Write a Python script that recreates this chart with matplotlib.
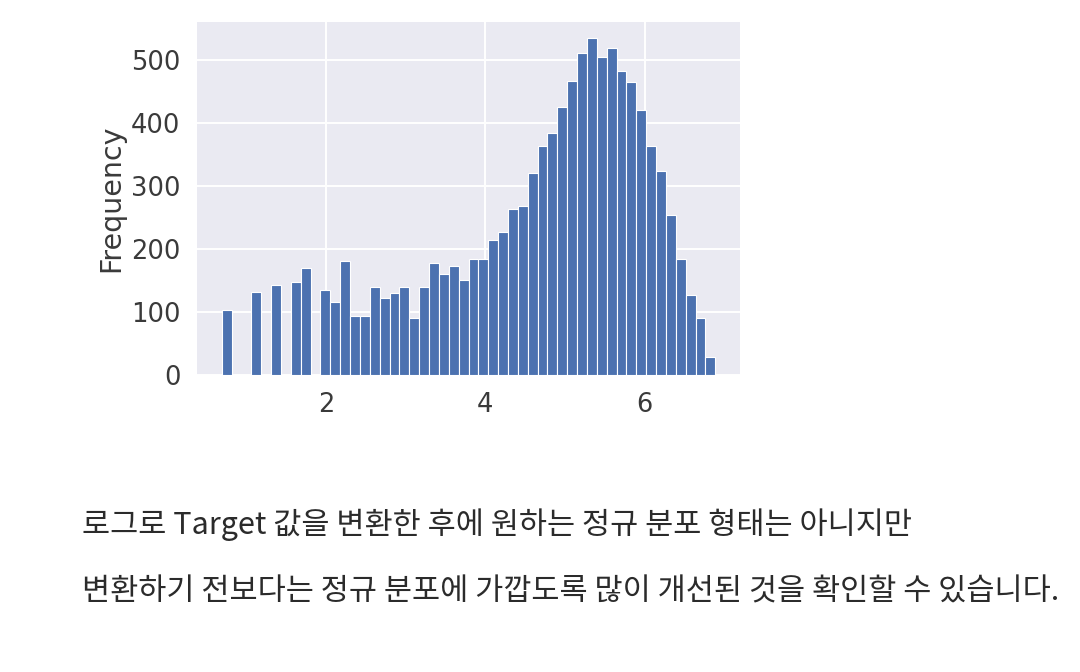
import numpy as np
import matplotlib
matplotlib.use("Agg")
import matplotlib.pyplot as plt
import seaborn as sns

# log1p(count) 히스토그램, 50개 구간
log_min = 0.693
log_max = 6.886
counts = [103, 0, 0, 132, 0, 142, 0, 148, 169, 0,
          135, 116, 181, 94, 94, 140, 122, 130, 140, 91,
          140, 178, 160, 173, 150, 184, 184, 214, 227, 263,
          268, 320, 364, 384, 425, 467, 511, 534, 505, 518,
          482, 464, 420, 364, 323, 253, 184, 127, 91, 29]
xticks = [2, 4, 6]
yticks = [0, 100, 200, 300, 400, 500]
line1 = "로그로 Target 값을 변환한 후에 원하는 정규 분포 형태는 아니지만"
line2 = "변환하기 전보다는 정규 분포에 가깝도록 많이 개선된 것을 확인할 수 있습니다."

sns.set_style("darkgrid")
plt.rcParams['font.family'] = ['DejaVu Sans']
plt.rcParams['font.sans-serif'] = ['DejaVu Sans']

edges = np.linspace(log_min, log_max, len(counts) + 1)
centers = (edges[:-1] + edges[1:]) / 2

fig = plt.figure(figsize=(10.8, 6.72), dpi=100)
ax = fig.add_axes([0.1824, 0.442, 0.5028, 0.5253])
ax.hist(centers, bins=edges, weights=counts, color="#4C72B0",
        edgecolor="white", linewidth=0.8)
ax.grid(color="white", linewidth=1.4)
ax.set_axisbelow(True)

span = log_max - log_min
ax.set_xlim(log_min - 0.05 * span, log_max + 0.05 * span)
ax.set_ylim(0, 560)
ax.set_xticks(xticks)
ax.set_yticks(yticks)
ax.tick_params(labelsize=18.5, colors="#3a3a3a", pad=12, length=0)
for lab in ax.get_xticklabels() + ax.get_yticklabels():
    lab.set_family('DejaVu Sans')
ax.set_ylabel("Frequency", fontsize=20.5, color="#3a3a3a", labelpad=4,
              family='DejaVu Sans')
for s in ax.spines.values():
    s.set_visible(False)

kr = ['Noto Sans CJK KR', 'DejaVu Sans']
fig.text(82 / 1080, 1 - 525 / 672, line1, family=kr, fontsize=22,
         color="#2b2b2b", va="center", ha="left")
fig.text(82 / 1080, 1 - 592 / 672, line2, family=kr, fontsize=22,
         color="#2b2b2b", va="center", ha="left")

fig.savefig("out.png", dpi=100, facecolor="white")
